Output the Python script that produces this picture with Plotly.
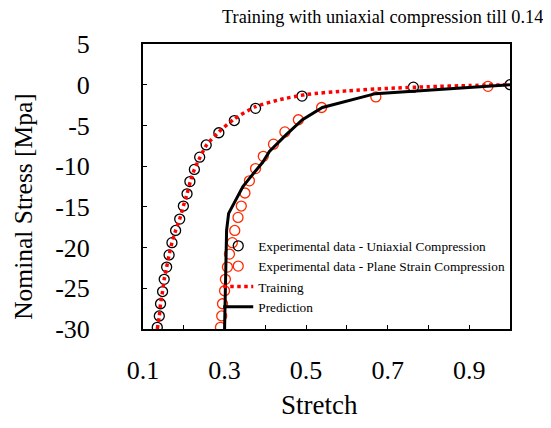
import plotly.graph_objects as go

# Experimental data - uniaxial compression
uni_stretch = [0.135, 0.140, 0.143, 0.148, 0.152, 0.158, 0.164, 0.171, 0.180, 0.190,
               0.199, 0.208, 0.215, 0.226, 0.239, 0.255, 0.286, 0.324, 0.376, 0.490,
               0.763, 1.000]
uni_stress = [-29.8, -28.4, -26.9, -25.4, -23.9, -22.4, -20.9, -19.4, -17.9, -16.5,
              -14.9, -13.4, -11.9, -10.4, -8.9, -7.4, -5.9, -4.4, -2.9, -1.4,
              -0.3, 0.0]

# Experimental data - plane strain compression
ps_stretch = [0.290, 0.293, 0.295, 0.300, 0.302, 0.307, 0.312, 0.319, 0.325, 0.333,
              0.341, 0.350, 0.361, 0.376, 0.395, 0.420, 0.448, 0.481, 0.538, 0.671,
              0.946]
ps_stress = [-29.8, -28.4, -26.9, -25.3, -23.9, -22.4, -20.8, -19.4, -17.9, -16.3,
             -14.9, -13.3, -11.8, -10.3, -8.8, -7.3, -5.8, -4.3, -2.8, -1.5,
             -0.2]

# Training (model fit, uniaxial)
train_stretch = [0.135, 0.140, 0.143, 0.148, 0.152, 0.158, 0.164, 0.171, 0.180, 0.190,
                 0.199, 0.208, 0.216, 0.226, 0.240, 0.256, 0.286, 0.324, 0.376, 0.43,
                 0.50, 0.60, 0.70, 0.80, 0.90, 1.00]
train_stress = [-30.0, -28.4, -26.9, -25.4, -23.9, -22.4, -20.9, -19.4, -17.9, -16.5,
                -14.9, -13.4, -11.9, -10.4, -8.9, -7.4, -5.8, -4.2, -2.7, -1.9,
                -1.2, -0.75, -0.45, -0.25, -0.1, 0.0]

# Prediction (plane strain)
pred_stretch = [0.300, 0.302, 0.305, 0.310, 0.324, 0.345, 0.361, 0.394, 0.410, 0.434,
                0.450, 0.491, 0.540, 0.670, 0.702, 0.824, 1.000]
pred_stress = [-30.0, -22.8, -17.9, -15.8, -14.4, -12.5, -11.5, -9.5, -8.2, -7.0,
               -6.2, -4.3, -2.8, -1.1, -1.0, -0.57, 0.0]

x_tickvals = [0.1, 0.2, 0.3, 0.4, 0.5, 0.6, 0.7, 0.8, 0.9, 1.0]
x_ticktext = ["0.1", "", "0.3", "", "0.5", "", "0.7", "", "0.9", ""]
y_tickvals = [5, 0, -5, -10, -15, -20, -25, -30]
y_ticktext = ["5", "0", "-5", "-10", "-15", "-20", "-25", "-30"]

TITLE = "Training with uniaxial compression till 0.14"
X_TITLE = "Stretch"
Y_TITLE = "Nominal Stress [Mpa]"

FONT = "Liberation Serif"

fig = go.Figure()
fig.add_trace(go.Scatter(
    x=uni_stretch, y=uni_stress, mode="markers",
    name="Experimental data - Uniaxial Compression",
    marker=dict(symbol="circle-open", size=10, color="black", line=dict(width=1.3)),
))
fig.add_trace(go.Scatter(
    x=ps_stretch, y=ps_stress, mode="markers",
    name="Experimental data - Plane Strain Compression",
    marker=dict(symbol="circle-open", size=10, color="#ff2a00", line=dict(width=1.3)),
))
fig.add_trace(go.Scatter(
    x=train_stretch, y=train_stress, mode="lines", name="Training",
    line=dict(color="#ff0000", width=3.5, dash="dot", shape="spline", smoothing=0.6),
))
fig.add_trace(go.Scatter(
    x=pred_stretch, y=pred_stress, mode="lines", name="Prediction",
    line=dict(color="black", width=3),
))

fig.update_layout(
    width=543, height=420,
    margin=dict(l=135, r=41, t=36, b=99, autoexpand=False),
    paper_bgcolor="white", plot_bgcolor="white",
    font=dict(family=FONT, color="black"),
    title=dict(text=TITLE, x=0.69, xanchor="center", y=0.995, yanchor="top",
               font=dict(size=18.3, family=FONT, color="black")),
    showlegend=True,
    legend=dict(x=0.205, y=0.345, xanchor="left", yanchor="top",
                bgcolor="rgba(0,0,0,0)", font=dict(size=13.3, family=FONT),
                itemwidth=30, tracegroupgap=0),
    xaxis=dict(
        range=[0.1, 1.0], tickvals=x_tickvals, ticktext=x_ticktext,
        ticks="inside", ticklen=4, tickcolor="black", tickwidth=1,
        showline=True, linecolor="black", linewidth=2, mirror=True,
        showgrid=False, zeroline=False,
        tickfont=dict(size=26, family=FONT), ticklabelstandoff=17,
    ),
    yaxis=dict(
        range=[-30, 5], tickvals=y_tickvals, ticktext=y_ticktext,
        ticks="inside", ticklen=4, tickcolor="black", tickwidth=1,
        showline=True, linecolor="black", linewidth=2, mirror=True,
        showgrid=False, zeroline=False,
        tickfont=dict(size=26, family=FONT), ticklabelstandoff=46,
    ),
    annotations=[
        dict(text=X_TITLE, xref="paper", yref="paper", x=0.482, y=-0.268,
             xanchor="center", yanchor="middle", showarrow=False,
             font=dict(size=27, family=FONT, color="black")),
        dict(text=Y_TITLE, xref="paper", yref="paper", x=-0.326, y=0.43,
             xanchor="center", yanchor="middle", showarrow=False, textangle=-90,
             font=dict(size=25.5, family=FONT, color="black")),
    ],
)

fig.write_html("out.html")
